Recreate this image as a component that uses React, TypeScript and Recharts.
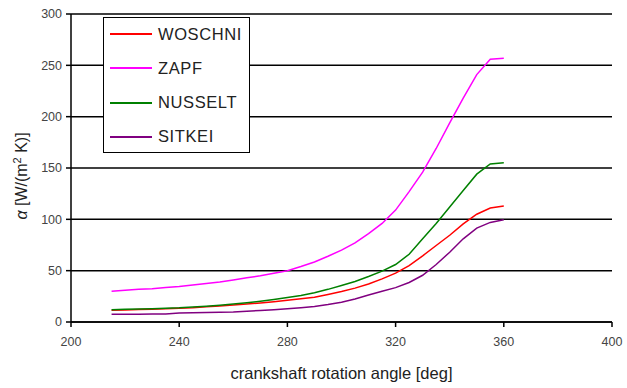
import React from 'react';
import { LineChart, Line, XAxis, YAxis, CartesianGrid, Legend } from 'recharts';

// crank angle [deg] and heat transfer coefficient per correlation [W/(m2 K)]
const angle = [215, 220, 225, 230, 235, 240, 245, 250, 255, 260, 265, 270, 275, 280, 285, 290, 295, 300, 305, 310, 315, 320, 325, 330, 335, 340, 345, 350, 355, 360];
const woschni = [11.5, 11.8, 12.1, 12.5, 13, 13.5, 14, 14.8, 15.6, 16.5, 17.5, 18.6, 19.8, 21.2, 22.6, 24.2, 26.8, 29.7, 33, 37, 42, 47.6, 55, 64.5, 74.5, 84.5, 95.5, 105, 111, 113];
const zapf = [30, 31, 32, 32.5, 33.5, 34.5, 36, 37.5, 39, 41, 43, 45, 47.5, 50, 54, 58.5, 64, 70, 77, 86, 96, 109, 127, 146, 169, 194, 218, 241, 256, 257];
const nusselt = [12, 12.3, 12.6, 13, 13.4, 13.8, 14.5, 15.3, 16.3, 17.5, 18.8, 20.3, 22, 23.8, 25.8, 28.5, 31.8, 35.5, 39.5, 44.3, 49.5, 56, 66, 81, 96, 112, 128, 144, 154, 155];
const sitkei = [7.5, 7.5, 7.6, 7.7, 7.8, 8.8, 9, 9.2, 9.4, 9.8, 10.5, 11.2, 12, 12.8, 13.8, 15, 17, 19.3, 22.5, 26.3, 30, 33.5, 38.5, 45.5, 56, 68, 81, 91.5, 97, 99.5];

const xTicks = [200, 240, 280, 320, 360, 400];
const yTicks = [0, 50, 100, 150, 200, 250, 300];

const series = [
  { key: 'WOSCHNI', color: '#ff0000' },
  { key: 'ZAPF', color: '#ff00ff' },
  { key: 'NUSSELT', color: '#008000' },
  { key: 'SITKEI', color: '#800080' },
];

const data = angle.map((a, i) => ({
  angle: a,
  WOSCHNI: woschni[i],
  ZAPF: zapf[i],
  NUSSELT: nusselt[i],
  SITKEI: sitkei[i],
}));

const FONT = '"Liberation Sans", Arial, sans-serif';
const tickStyle = { fontFamily: FONT, fontSize: 12.5, fill: '#444' };

const LegendBox = () => (
  <div style={{ position: 'relative', width: 147, height: 136, border: '1.5px solid #000', background: '#fff', boxSizing: 'border-box' }}>
    {series.map((s, i) => (
      <div key={s.key} style={{ position: 'absolute', left: 0, top: 4 + i * 34.3, height: 24, display: 'flex', alignItems: 'center' }}>
        <div style={{ width: 42, height: 2, background: s.color, marginLeft: 6, marginRight: 6 }} />
        <span style={{ fontFamily: FONT, fontSize: 16.5, color: '#222', letterSpacing: 0.6 }}>{s.key}</span>
      </div>
    ))}
  </div>
);

const YTitle = (props: any) => {
  const { viewBox } = props;
  const cy = viewBox.y + viewBox.height / 2 + 8;
  return (
    <text transform={`translate(27, ${cy}) rotate(-90)`} textAnchor="middle" fontFamily={FONT} fontSize={16} fill="#222">
      <tspan fontStyle="italic">α</tspan>
      <tspan> [W/(m</tspan>
      <tspan fontSize={11} dy={-6}>2</tspan>
      <tspan dy={6}> K)]</tspan>
    </text>
  );
};

export default function App() {
  return (
    <div style={{ position: 'absolute', left: 0, top: 0, background: '#fff' }}>
      <LineChart width={627} height={388} data={data} margin={{ top: 14, right: 15, left: 0, bottom: 0 }}>
        <CartesianGrid vertical={false} stroke="#000" strokeWidth={1.5} />
        <XAxis
          dataKey="angle"
          type="number"
          domain={[200, 400]}
          ticks={xTicks}
          height={66}
          stroke="#000"
          strokeWidth={1.5}
          tickSize={5}
          tickMargin={10}
          tick={tickStyle}
          label={{ value: 'crankshaft rotation angle [deg]', position: 'insideBottom', offset: 9, fontFamily: FONT, fontSize: 16.5, fill: '#222' }}
        />
        <YAxis
          type="number"
          domain={[0, 300]}
          ticks={yTicks}
          width={71}
          stroke="#000"
          strokeWidth={1.5}
          tickSize={5}
          tickMargin={4}
          tick={tickStyle}
          label={<YTitle />}
        />
        <Legend
          layout="vertical"
          align="center"
          verticalAlign="middle"
          content={<LegendBox />}
          wrapperStyle={{ left: 103, top: 17, width: 147 }}
        />
        {series.map(s => (
          <Line key={s.key} dataKey={s.key} stroke={s.color} strokeWidth={1.5} dot={false} type="linear" isAnimationActive={false} />
        ))}
      </LineChart>
    </div>
  );
}
